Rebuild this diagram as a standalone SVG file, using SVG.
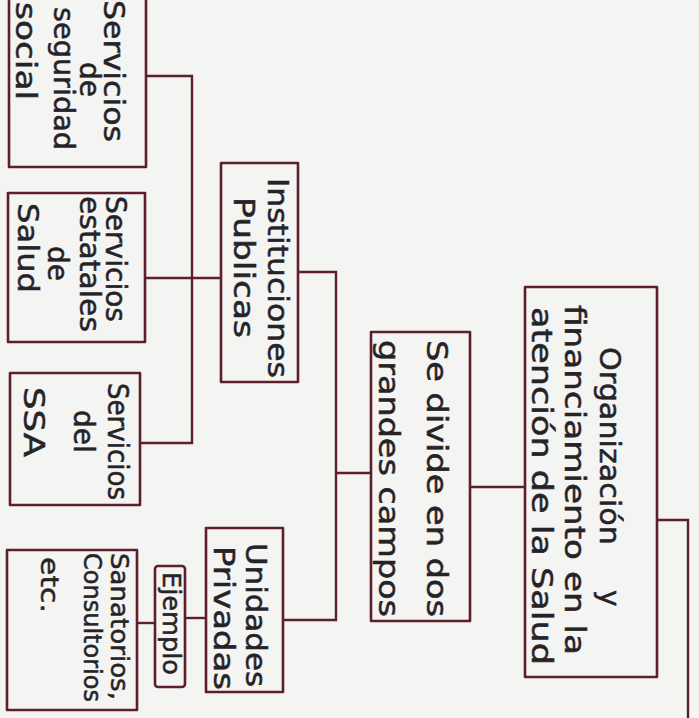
<svg xmlns="http://www.w3.org/2000/svg" width="699" height="718" viewBox="0 0 699 718">
<style>
.bx{fill:none;stroke:#5e1f2c;stroke-width:2.6;stroke-linejoin:round}
.cn{fill:none;stroke:#5e1f2c;stroke-width:2.4}
.t{font-family:"DejaVu Sans","Liberation Sans",sans-serif;font-size:28px;fill:#262326;stroke:#262326;stroke-width:0.5}
.s{font-size:25px}
</style>
<rect width="699" height="718" fill="#f4f4f2"/>
<g id="connectors">
<path class="cn" d="M146,76 H192 V443 H140"/>
<path class="cn" d="M145,278 H221"/>
<path class="cn" d="M298,272 H336 V620 H283"/>
<path class="cn" d="M336,473 H371"/>
<path class="cn" d="M470,487 H525"/>
<path class="cn" d="M657,520 H688 V718"/>
<path class="cn" d="M185,618 H206"/>
<path class="cn" d="M137,623 H155"/>
</g>
<g id="n-seguridad">
<rect class="bx" x="9" y="-5" width="137" height="172"/>
<text class="t" transform="translate(104,0) rotate(90)" textLength="142" lengthAdjust="spacingAndGlyphs">Servicios</text>
<text class="t" transform="translate(80,62) rotate(90)">de</text>
<text class="t" transform="translate(54,7) rotate(90)" textLength="143" lengthAdjust="spacingAndGlyphs">seguridad</text>
<text class="t" transform="translate(16,2) rotate(90)" textLength="98" lengthAdjust="spacingAndGlyphs">social</text>
</g>
<g id="n-estatales">
<rect class="bx" x="8" y="193" width="137" height="149"/>
<text class="t" transform="translate(106,196) rotate(90)" textLength="126" lengthAdjust="spacingAndGlyphs">Servicios</text>
<text class="t" transform="translate(80,196) rotate(90)" textLength="136" lengthAdjust="spacingAndGlyphs">estatales</text>
<text class="t" transform="translate(48,246) rotate(90)">de</text>
<text class="t" transform="translate(18,203) rotate(90)" textLength="90" lengthAdjust="spacingAndGlyphs">Salud</text>
</g>
<g id="n-ssa">
<rect class="bx" x="10" y="373" width="130" height="132"/>
<text class="t" transform="translate(108,383) rotate(90)" textLength="117" lengthAdjust="spacingAndGlyphs">Servicios</text>
<text class="t" transform="translate(74,410) rotate(90)">del</text>
<text class="t" transform="translate(24,387) rotate(90)" textLength="70" lengthAdjust="spacingAndGlyphs">SSA</text>
</g>
<g id="n-sanatorios">
<rect class="bx" x="7" y="550" width="130" height="160"/>
<text class="t s" transform="translate(111,553) rotate(90)" textLength="147" lengthAdjust="spacingAndGlyphs">Sanatorios,</text>
<text class="t s" transform="translate(84,553) rotate(90)" textLength="149" lengthAdjust="spacingAndGlyphs">Consultorios</text>
<text class="t s" transform="translate(41,557) rotate(90)" textLength="56" lengthAdjust="spacingAndGlyphs">etc.</text>
</g>
<g id="n-ejemplo">
<rect class="bx" x="155" y="566" width="30" height="121" rx="3"/>
<text class="t s" transform="translate(163,572) rotate(90)" textLength="103" lengthAdjust="spacingAndGlyphs">Ejemplo</text>
</g>
<g id="n-privadas">
<rect class="bx" x="206" y="528" width="77" height="164"/>
<text class="t" transform="translate(246,543) rotate(90)" textLength="144" lengthAdjust="spacingAndGlyphs">Unidades</text>
<text class="t" transform="translate(214,546) rotate(90)" textLength="144" lengthAdjust="spacingAndGlyphs">Privadas</text>
</g>
<g id="n-publicas">
<rect class="bx" x="221" y="163" width="77" height="219"/>
<text class="t" transform="translate(268,178) rotate(90)" textLength="200" lengthAdjust="spacingAndGlyphs">Instituciones</text>
<text class="t" transform="translate(234,197) rotate(90)" textLength="141" lengthAdjust="spacingAndGlyphs">Publicas</text>
</g>
<g id="n-campos">
<rect class="bx" x="371" y="332" width="99" height="289"/>
<text class="t" transform="translate(427,340) rotate(90)" textLength="277" lengthAdjust="spacingAndGlyphs">Se divide en dos</text>
<text class="t" transform="translate(379,340) rotate(90)" textLength="277" lengthAdjust="spacingAndGlyphs">grandes campos</text>
</g>
<g id="n-organizacion">
<rect class="bx" x="525" y="287" width="132" height="390"/>
<text class="t" transform="translate(600,347) rotate(90)"><tspan textLength="198" lengthAdjust="spacingAndGlyphs">Organización</tspan><tspan x="243">y</tspan></text>
<text class="t" transform="translate(565,305) rotate(90)" textLength="350" lengthAdjust="spacingAndGlyphs">financiamiento en la</text>
<text class="t" transform="translate(532,307) rotate(90)" textLength="358" lengthAdjust="spacingAndGlyphs">atención de la Salud</text>
</g>
</svg>
